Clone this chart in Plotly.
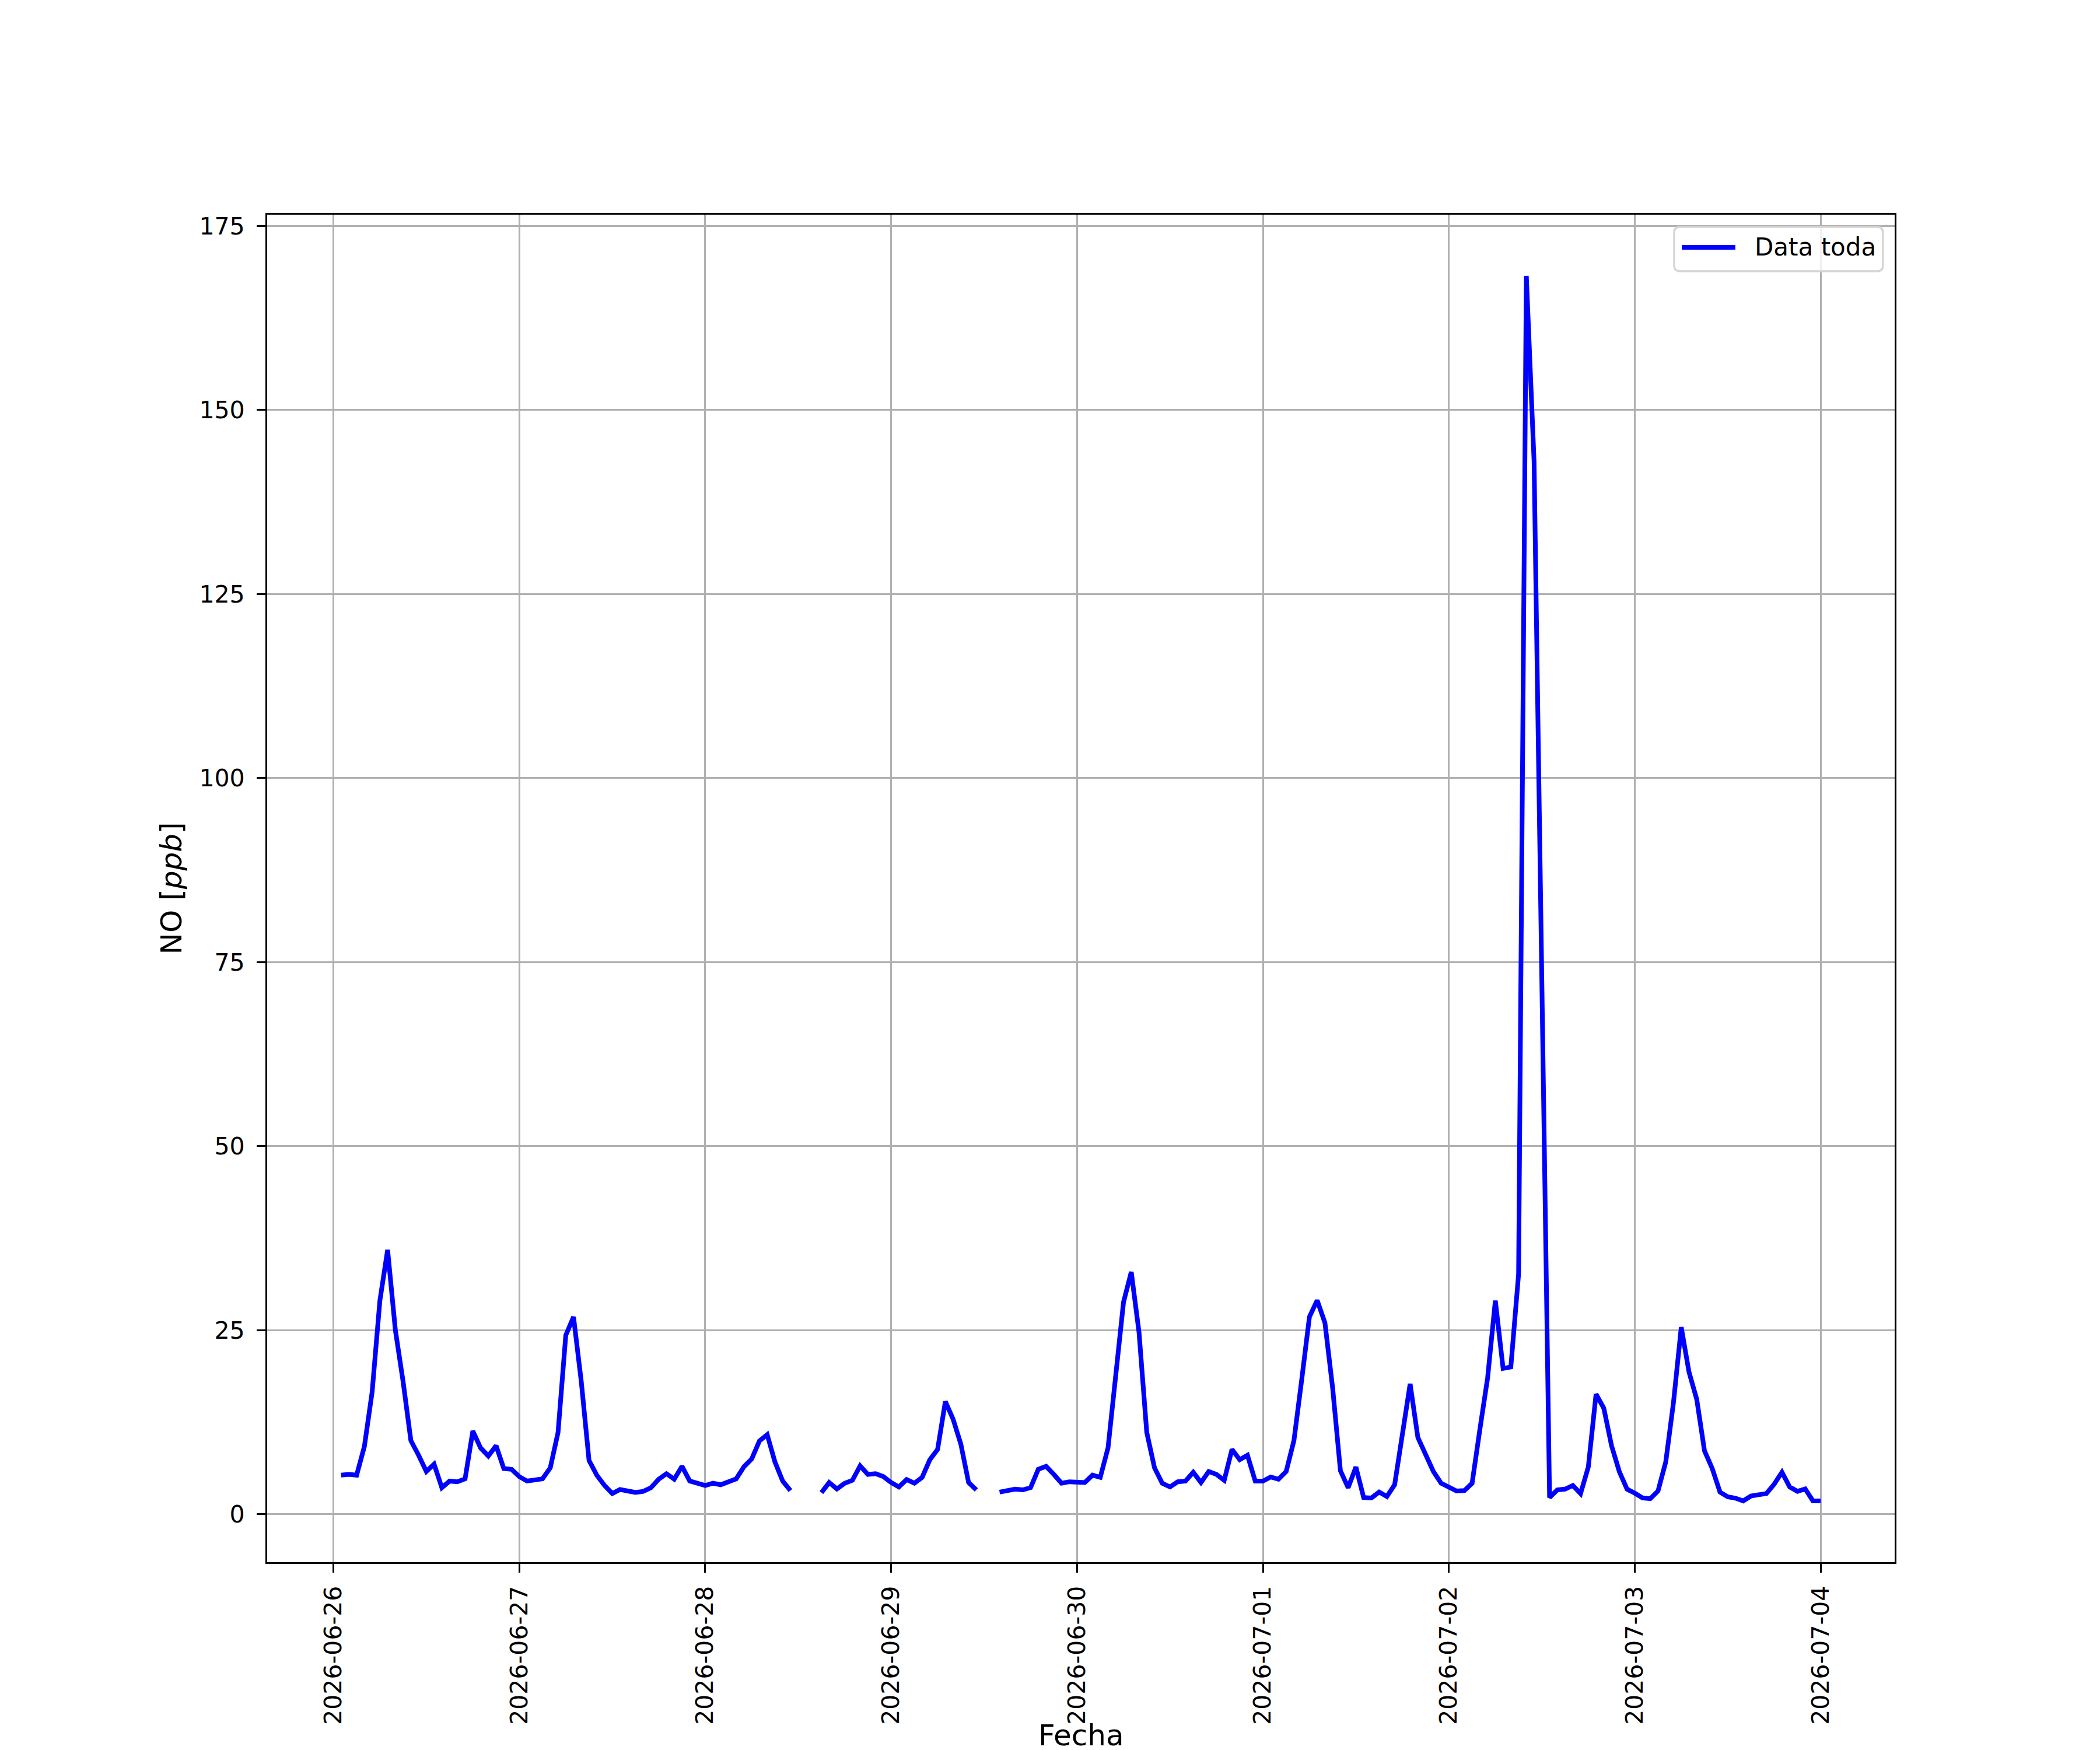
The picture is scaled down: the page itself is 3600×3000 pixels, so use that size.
import pandas as pd
import plotly.graph_objects as go

# === Datos horarios de NO [ppb] ===
# 2026-06-26 arranca a las 01:00
no_0626 = [5.3, 5.4, 5.3, 9.2, 16.6, 29.0, 35.9, 25.0, 18.0, 10.0, 8.0, 5.8,
           6.8, 3.6, 4.5, 4.4, 4.8, 11.3, 9.0, 7.9, 9.3, 6.2, 6.1]
no_0627 = [5.1, 4.5, 4.7, 4.8, 6.3, 11.1, 24.3, 26.8, 18.0, 7.3, 5.3, 3.9,
           2.8, 3.35, 3.15, 2.95, 3.1, 3.6, 4.75, 5.5, 4.75, 6.5, 4.5, 4.2]
no_0628 = [3.9, 4.2, 4.0, 4.4, 4.8, 6.45, 7.5, 9.95, 10.8, 7.1, 4.5, 3.2,
           None, None, None, 2.93, 4.3, 3.43, 4.2, 4.6, 6.57, 5.4, 5.5, 5.1]
no_0629 = [4.3, 3.7, 4.7, 4.2, 5.0, 7.4, 8.8, 15.3, 12.9, 9.5, 4.3, 3.3,
           None, None, 3.0, 3.15, 3.4, 3.3, 3.6, 6.1, 6.5, 5.4, 4.2, 4.4]
no_0630 = [4.4, 4.3, 5.3, 5.0, 9.0, 18.7, 28.8, 32.9, 24.7, 11.1, 6.3, 4.2,
           3.7, 4.4, 4.5, 5.7, 4.3, 5.8, 5.4, 4.6, 8.8, 7.4, 8.0, 4.5]
no_0701 = [4.5, 5.05, 4.75, 5.8, 10.0, 18.25, 26.8, 29.05, 26.0, 17.1, 5.9, 3.6,
           6.4, 2.26, 2.2, 3.0, 2.4, 4.0, 10.9, 17.7, 10.4, 8.1, 5.8, 4.2]
no_0702 = [3.7, 3.15, 3.2, 4.2, 11.5, 18.5, 29.0, 19.8, 20.0, 32.6, 168.2, 143.0,
           72.6, 2.26, 3.3, 3.4, 3.9, 2.8, 6.4, 16.3, 14.4, 9.3, 5.8, 3.4]
no_0703 = [2.85, 2.2, 2.1, 3.15, 7.1, 15.2, 25.4, 19.3, 15.6, 8.6, 6.2, 3.0,
           2.35, 2.17, 1.8, 2.46, 2.64, 2.8, 4.08, 5.7, 3.7, 3.1, 3.43, 1.8]
no_0704 = [1.8]

valores = (no_0626 + no_0627 + no_0628 + no_0629 + no_0630 +
           no_0701 + no_0702 + no_0703 + no_0704)
fechas = pd.date_range('2026-06-26 01:00', periods=len(valores), freq='h')

ticks_y = [0, 25, 50, 75, 100, 125, 150, 175]
nombre_serie = 'Data toda'
azul = '#0000ff'

# === Gráfico ===
fig = go.Figure()
fig.add_trace(go.Scatter(x=fechas, y=valores, mode='lines', name=nombre_serie,
                         line=dict(color=azul, width=8), connectgaps=False,
                         showlegend=False))

eje = dict(showline=True, linecolor='black', linewidth=3.3, mirror=True,
           showgrid=True, gridcolor='#b0b0b0', gridwidth=3.3,
           ticks='outside', ticklen=15, tickwidth=3.3, tickcolor='black',
           zeroline=False, tickfont=dict(size=41, color='black'))

# leyenda estilo matplotlib (caja redondeada arriba a la derecha)
x0, x1, y0, y1 = 0.8645, 0.9928, 0.958, 0.9909
rx, ry = 0.0036, 0.0043
caja = (f'M {x0+rx},{y0} L {x1-rx},{y0} Q {x1},{y0} {x1},{y0+ry} '
        f'L {x1},{y1-ry} Q {x1},{y1} {x1-rx},{y1} L {x0+rx},{y1} '
        f'Q {x0},{y1} {x0},{y1-ry} L {x0},{y0+ry} Q {x0},{y0} {x0+rx},{y0} Z')

fig.add_shape(type='path', path=caja, xref='paper', yref='paper', layer='above',
              fillcolor='rgba(255,255,255,0.8)', line=dict(color='#d4d4d4', width=3.3))
fig.add_shape(type='line', xref='paper', yref='paper', layer='above',
              x0=0.8692, x1=0.9021, y0=0.9758, y1=0.9758,
              line=dict(color=azul, width=8))
fig.add_annotation(text=nombre_serie, xref='paper', yref='paper', x=0.9133, y=0.9758,
                   xanchor='left', yanchor='middle', showarrow=False,
                   font=dict(size=42, color='black'))

# título del eje x
fig.add_annotation(text='Fecha', xref='paper', yref='paper', x=0.5, y=-0.1286,
                   xanchor='center', yanchor='middle', showarrow=False,
                   font=dict(size=50, color='black'))

fig.update_layout(
    width=3600, height=3000,
    plot_bgcolor='white', paper_bgcolor='white',
    font=dict(family='DejaVu Sans', color='black'),
    margin=dict(l=450, r=360, t=360, b=330, autoexpand=False),
    showlegend=False,
    xaxis=dict(eje, type='date', range=['2026-06-25 15:27', '2026-07-04 09:33'],
               tick0='2026-06-26', dtick=86400000, tickformat='%Y-%m-%d',
               tickangle=-90, ticklabelstandoff=6),
    yaxis=dict(eje, range=[-6.52, 176.52], tickvals=ticks_y, ticklabelstandoff=12,
               title=dict(text='NO [<i>ppb</i>]', font=dict(size=50), standoff=14)),
)

fig.write_html('out.html')
